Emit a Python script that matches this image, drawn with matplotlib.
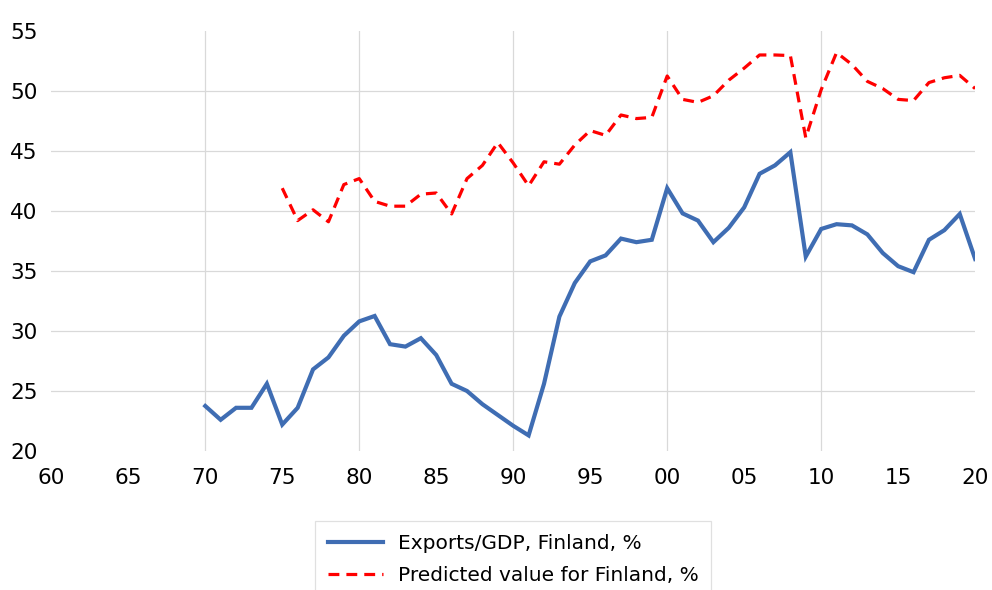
import numpy as np
import matplotlib
matplotlib.use("Agg")
import matplotlib.pyplot as plt

## data
exp_years = list(range(1970, 2021))
exports = [23.75, 22.6, 23.6, 23.6, 25.6, 22.2, 23.6, 26.8, 27.8, 29.6,
           30.8, 31.25, 28.9, 28.7, 29.4, 28.0, 25.6, 25.0, 23.9, 23.0,
           22.1, 21.3, 25.6, 31.2, 34.0, 35.8, 36.3, 37.7, 37.4, 37.6,
           41.9, 39.8, 39.2, 37.4, 38.6, 40.3, 43.1, 43.8, 44.9, 36.2,
           38.5, 38.9, 38.8, 38.05, 36.5, 35.4, 34.9, 37.6, 38.4, 39.75,
           36.0]

pred_years = list(range(1975, 2021))
predicted = [41.9, 39.2, 40.1, 39.1, 42.2, 42.7, 40.8, 40.4, 40.4, 41.4,
             41.5, 39.75, 42.7, 43.8, 45.7, 44.0, 42.1, 44.1, 43.9, 45.5,
             46.7, 46.3, 48.0, 47.7, 47.8, 51.25, 49.3, 49.05, 49.6, 50.9,
             51.9, 53.0, 53.0, 52.95, 46.1, 50.1, 53.2, 52.2, 50.8, 50.2,
             49.3, 49.2, 50.7, 51.1, 51.3, 50.2]

xticks = list(range(1960, 2021, 5))
yticks = list(range(20, 56, 5))

plt.rcParams['font.family'] = ['DejaVu Sans']

fig = plt.figure(figsize=(9.92, 5.9), dpi=100)
ax = fig.add_axes([0.0517, 0.2356, 0.9313, 0.7119])

grid_c = '#d9d9d9'
for yv in yticks[1:-1]:
    ax.axhline(yv, color=grid_c, lw=0.9, zorder=0)
for xv in range(1970, 2011, 10):
    ax.axvline(xv, color=grid_c, lw=0.9, zorder=0)

ax.plot(exp_years, exports, color='#3F6DB3', lw=3.0,
        solid_joinstyle='miter', label='Exports/GDP, Finland, %', zorder=3)
ax.plot(pred_years, predicted, color='#FF0000', lw=2.3,
        dashes=(3.4, 2.2), label='Predicted value for Finland, %', zorder=3)

ax.set_xlim(1960, 2020)
ax.set_ylim(20, 55)
ax.set_xticks(xticks)
ax.set_xticklabels(['%02d' % (y % 100) for y in xticks])
ax.set_yticks(yticks)
ax.tick_params(axis='both', length=0, labelsize=15.5, colors='black')
ax.tick_params(axis='y', pad=10)
ax.tick_params(axis='x', pad=12)
for s in ax.spines.values():
    s.set_visible(False)

leg = ax.legend(loc='upper center', bbox_to_anchor=(0.5, -0.167),
                borderaxespad=0, fontsize=14.5, frameon=True, fancybox=False,
                handlelength=2.75, handletextpad=0.7, borderpad=0.65,
                labelspacing=0.62)
leg.get_frame().set_edgecolor('#d9d9d9')
leg.get_frame().set_linewidth(0.9)

fig.savefig('out.png', dpi=100)
